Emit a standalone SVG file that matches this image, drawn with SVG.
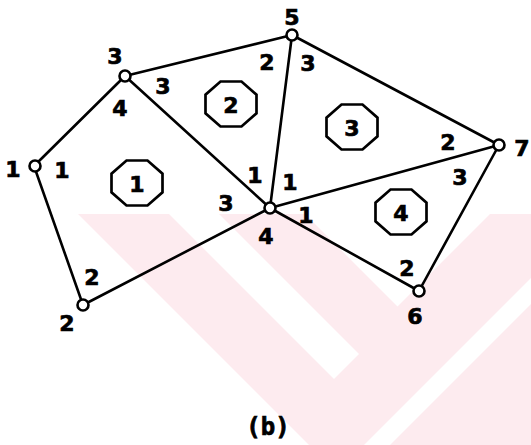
<svg xmlns="http://www.w3.org/2000/svg" xmlns:xlink="http://www.w3.org/1999/xlink" width="531" height="445" viewBox="0 0 531 445">
<style>
.wm{fill:#fdebef;stroke:none}
.wh{fill:#ffffff;stroke:none}
.edge{stroke:#000;stroke-width:2.6;fill:none;stroke-linecap:round}
.node{fill:#fff;stroke:#000;stroke-width:2.6}
.oct{fill:none;stroke:#000;stroke-width:2.7;stroke-linejoin:miter}
text{font-family:"DejaVu Sans","Liberation Sans",sans-serif;font-weight:bold;font-size:22px;fill:#000;stroke:#000;stroke-width:0.7;text-anchor:middle;dominant-baseline:central}
.cap{font-family:"DejaVu Sans Mono","Liberation Mono",monospace;font-size:24px}
</style>
<defs>
<polygon id="octshape" class="oct" points="-10.5,-22.5 10.5,-22.5 25.5,-9.3 25.5,9.3 10.5,22.5 -10.5,22.5 -25.5,9.3 -25.5,-9.3"/>
</defs>
<rect width="531" height="445" fill="#fff"/>
<g id="watermark">
<polygon class="wm" points="78,214 305,214 397.5,306.5 490,214 531,214 531,445 309,445"/>
<polygon class="wh" points="169,214 219,214 359,354 334,379"/>
<polygon class="wh" points="531,278 531,304 390,445 364,445"/>
</g>
<g id="connectors">
<line class="edge" x1="34" y1="166" x2="125" y2="76"/>
<line class="edge" x1="34" y1="166" x2="83" y2="305"/>
<line class="edge" x1="83" y1="305" x2="270" y2="208"/>
<line class="edge" x1="125" y1="76" x2="270" y2="208"/>
<line class="edge" x1="125" y1="76" x2="292" y2="35"/>
<line class="edge" x1="292" y1="35" x2="270" y2="208"/>
<line class="edge" x1="292" y1="35" x2="499" y2="145"/>
<line class="edge" x1="270" y1="208" x2="499" y2="145"/>
<line class="edge" x1="270" y1="208" x2="419" y2="291"/>
<line class="edge" x1="419" y1="291" x2="499" y2="145"/>
</g>
<g id="n1"><circle class="node" cx="35" cy="166" r="5.5"/><text x="13" y="169">1</text></g>
<g id="n2"><circle class="node" cx="83" cy="305" r="5.5"/><text x="67" y="323">2</text></g>
<g id="n3"><circle class="node" cx="125" cy="76" r="5.5"/><text x="115" y="56">3</text></g>
<g id="n4"><circle class="node" cx="270" cy="208" r="5.5"/><text x="266" y="236">4</text></g>
<g id="n5"><circle class="node" cx="292" cy="35" r="5.5"/><text x="292" y="17">5</text></g>
<g id="n6"><circle class="node" cx="419" cy="291" r="5.5"/><text x="415" y="316">6</text></g>
<g id="n7"><circle class="node" cx="499" cy="145" r="5.5"/><text x="522" y="148">7</text></g>
<g id="e1">
<use xlink:href="#octshape" href="#octshape" x="137" y="183"/><text x="137" y="184">1</text>
<text x="62" y="170">1</text><text x="120" y="108">4</text><text x="226" y="203">3</text><text x="92" y="277">2</text>
</g>
<g id="e2">
<use xlink:href="#octshape" href="#octshape" x="231" y="104"/><text x="231" y="105">2</text>
<text x="163" y="86">3</text><text x="267" y="62">2</text><text x="255" y="175">1</text>
</g>
<g id="e3">
<use xlink:href="#octshape" href="#octshape" x="352" y="127"/><text x="352" y="128">3</text>
<text x="308" y="63">3</text><text x="290" y="182">1</text><text x="448" y="142">2</text>
</g>
<g id="e4">
<use xlink:href="#octshape" href="#octshape" x="401" y="212"/><text x="401" y="213">4</text>
<text x="306" y="215">1</text><text x="460" y="177">3</text><text x="407" y="268">2</text>
</g>
<text class="cap" x="268" y="427">(b)</text>
</svg>
